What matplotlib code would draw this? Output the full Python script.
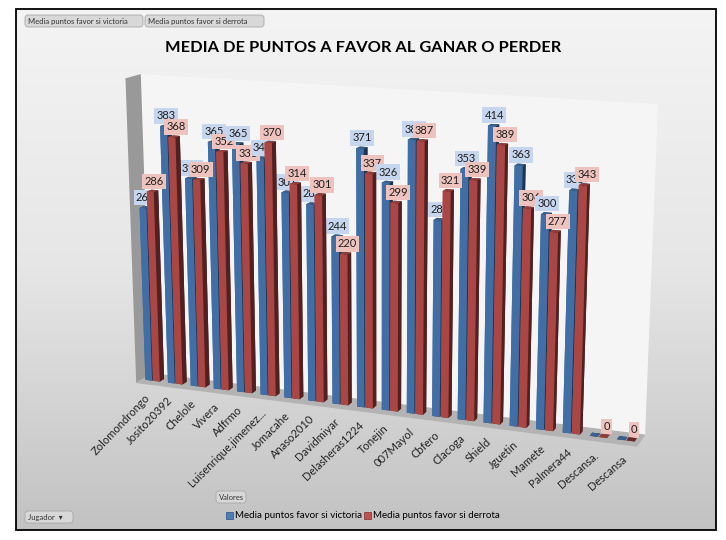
import numpy as np
import matplotlib
matplotlib.use('Agg')
import matplotlib.pyplot as plt
from matplotlib.patches import FancyBboxPatch, Rectangle

# data
jugadores = ['Zolomondrongo', 'Josito20392', 'Chelole', 'Vivera', 'Adfrmo',
             'Luisenrique.jimenez...', 'Jomacahe', 'Anaso2010', 'Davidmiyar',
             'Delasheras1224', 'Tonejin', '007Mayol', 'Cbfero', 'Clacoga',
             'Shield', 'Jguetin', 'Mamete', 'Palmera44', 'Descansa.', 'Descansa']
victoria = [261, 383, 310, 365, 365, 347, 301, 287, 244, 371,
            326, 388, 280, 353, 414, 363, 300, 335, 0, 0]
derrota = [286, 368, 309, 352, 338, 370, 314, 301, 220, 337,
           299, 387, 321, 339, 389, 306, 277, 343, 0, 0]

azul = '#4a7ebb'
rojo = '#c0504d'

plt.rcParams['font.family'] = ['Lato', 'DejaVu Sans']
fig = plt.figure(figsize=(7.26, 5.40), dpi=100)

# background gradient of the chart area
bg = fig.add_axes([0, 0, 1, 1])
grad = np.linspace(0, 1, 256).reshape(-1, 1)
bg.imshow(grad, cmap=matplotlib.colors.LinearSegmentedColormap.from_list(
    'g', ['#f4f4f4', '#e6e6e6', '#c2c2c2']), aspect='auto',
    extent=[16, 716, 530, 9])
bg.set_xlim(0, 726)
bg.set_ylim(540, 0)
bg.axis('off')
bg.add_patch(Rectangle((16, 9), 700, 521, fill=False, lw=1.3, ec='black'))

# 3D chart
ax = fig.add_axes([0.012, 0.018, 1.0, 1.0], projection='3d')
ax.set_facecolor('none')
ax.set_proj_type('persp', focal_length=0.6)
ax.view_init(elev=14, azim=-69)
n = len(jugadores)
x = np.arange(n)
w = 0.3
dy = 0.3
ax.bar3d(x - w - 0.02, 0.35, 0, w, dy, victoria, color=azul, shade=True)
ax.bar3d(x + 0.02, 0.35, 0, w, dy, derrota, color=rojo, shade=True)
ax.set_xlim(-0.5, n - 0.5)
ax.set_ylim(0, 1)
ax.set_zlim(0, 450)
ax.set_box_aspect((20, 1.2, 12), zoom=1.14)

ax.xaxis.set_pane_color((0.6, 0.6, 0.6, 1))
ax.yaxis.set_pane_color((0.96, 0.96, 0.96, 1))
ax.zaxis.set_pane_color((0.7, 0.7, 0.7, 1))
ax.grid(False)
ax.set_xticks([])
ax.set_yticks([])
ax.set_zticks([])
for a in (ax.xaxis, ax.yaxis, ax.zaxis):
    a.line.set_color((0, 0, 0, 0))

for i in range(n):
    if victoria[i] > 0:
        ax.text(x[i] - w / 2, 0.5, victoria[i] + 6, str(victoria[i]), fontsize=8,
                ha='center', va='bottom', color='#1f1f1f',
                bbox=dict(boxstyle='square,pad=0.2', fc='#c6d6ee', ec='none'))
    ax.text(x[i] + w / 2 + 0.1, 0.5, derrota[i] + 6, str(derrota[i]), fontsize=8,
            ha='center', va='bottom', color='#1f1f1f',
            bbox=dict(boxstyle='square,pad=0.2', fc='#efc3bd', ec='none'))
    # zdir gives the on-screen slant of the category labels
    ax.text(x[i] + 0.2, 0, -12, jugadores[i], zdir=(1, 0, 40), fontsize=8,
            ha='right', va='top', color='#222222')

fig.text(0.5, 0.911, 'MEDIA DE PUNTOS A FAVOR AL GANAR O PERDER',
         ha='center', va='center', fontsize=11.8, fontweight='bold')

# pivot field buttons and legend
def boton(x0, y0, txt, wd, fs=5.5):
    bg.add_patch(FancyBboxPatch((x0, y0), wd, 12, boxstyle='round,pad=0,rounding_size=3',
                                fc='#d8d8d8', ec='#a8a8a8', lw=0.6))
    bg.text(x0 + 3, y0 + 6.5, txt, fontsize=fs, va='center', ha='left', color='#333333')

boton(25, 15, 'Media puntos favor si victoria', 118)
boton(145, 15, 'Media puntos favor si derrota', 119)
boton(216, 491, 'Valores', 30)
boton(25, 511, 'Jugador  \u25be', 48)

bg.add_patch(Rectangle((226, 512), 7, 7, fc=azul, ec='#2f4f7f', lw=0.5))
bg.text(235, 515.5, 'Media puntos favor si victoria', fontsize=7, va='center')
bg.add_patch(Rectangle((364, 512), 7, 7, fc=rojo, ec='#7f2f2f', lw=0.5))
bg.text(373, 515.5, 'Media puntos favor si derrota', fontsize=7, va='center')

fig.savefig('out.png', dpi=100)
